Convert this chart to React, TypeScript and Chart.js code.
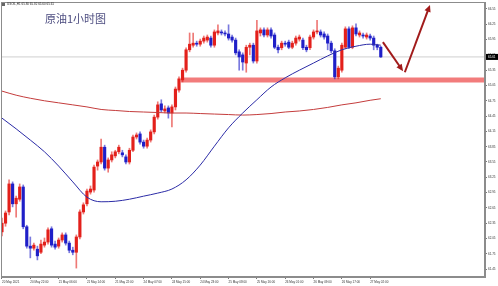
import React, { useEffect, useRef } from 'react';
import { Chart, registerables } from 'chart.js';
Chart.register(...registerables);

// Hourly candles, bar index 0 = 20 May 14:00
const opens = [
  62.18, 62.35, 62.57, 63.12, 62.73, 62.82, 63.06, 62.28, 61.90, 61.86,
  61.84, 61.78, 61.92, 61.98, 62.24, 61.94, 61.90, 62.02, 62.12, 61.96,
  61.82, 61.78, 62.08, 62.57, 62.73, 62.96, 63.00, 63.47, 63.55, 63.84,
  63.43, 63.59, 63.67, 63.75, 63.73, 63.65, 63.55, 63.78, 64.04, 64.10,
  63.94, 63.86, 63.98, 64.14, 64.43, 64.69, 64.55, 64.61, 64.51, 64.63,
  64.96, 65.16, 65.35, 65.75, 65.84, 65.88, 65.86, 65.92, 65.94, 65.98,
  65.84, 66.08, 66.10, 66.08, 66.06, 66.00, 65.94, 65.71, 65.65, 65.49,
  65.80, 65.84, 65.53, 66.08, 66.14, 66.04, 66.14, 66.04, 65.80, 65.79,
  65.88, 65.90, 65.80, 65.88, 65.96, 65.94, 65.80, 65.79, 66.00, 66.10,
  66.10, 66.06, 66.02, 65.88, 65.73, 65.22, 65.35, 65.80, 66.16, 65.80,
  66.18, 66.04, 66.04, 66.00, 66.02, 65.98, 65.84, 65.80,
];
const closes = [
  62.35, 62.55, 63.12, 62.73, 62.84, 63.06, 62.28, 61.90, 61.86, 61.92,
  61.71, 61.94, 61.98, 62.22, 61.92, 61.88, 62.02, 62.12, 61.96, 61.82,
  61.78, 62.08, 62.57, 62.71, 62.98, 63.02, 63.45, 63.55, 63.84, 63.43,
  63.59, 63.69, 63.75, 63.84, 63.69, 63.55, 63.78, 64.04, 64.08, 63.94,
  63.86, 63.98, 64.14, 64.43, 64.67, 64.57, 64.59, 64.51, 64.63, 64.98,
  65.18, 65.35, 65.75, 65.86, 65.88, 65.86, 65.92, 65.98, 66.00, 65.84,
  66.10, 66.12, 66.08, 66.06, 65.98, 65.94, 65.69, 65.61, 65.51, 65.80,
  65.84, 65.53, 66.12, 66.14, 66.04, 66.14, 66.02, 65.80, 65.75, 65.88,
  65.86, 65.80, 65.88, 65.98, 66.00, 65.79, 65.75, 66.00, 66.10, 66.12,
  66.04, 66.00, 65.88, 65.73, 65.22, 65.39, 65.84, 66.16, 65.80, 66.18,
  66.06, 66.08, 66.02, 66.04, 65.98, 65.84, 65.80, 65.61,
];
const highs = [
  62.45, 62.59, 63.20, 63.16, 62.88, 63.12, 63.10, 62.31, 62.08, 61.96,
  61.90, 62.02, 62.06, 62.26, 62.28, 62.00, 62.06, 62.16, 62.16, 62.00,
  61.88, 62.12, 62.61, 62.75, 63.02, 63.08, 63.49, 63.59, 64.00, 63.88,
  63.63, 63.75, 63.78, 63.88, 63.78, 63.69, 63.82, 64.08, 64.12, 64.14,
  63.98, 64.02, 64.18, 64.47, 64.73, 64.77, 64.65, 64.65, 64.67, 65.02,
  65.22, 65.39, 65.79, 66.08, 66.08, 65.92, 65.96, 66.02, 66.04, 66.02,
  66.14, 66.24, 66.14, 66.12, 66.24, 66.04, 65.98, 65.75, 65.69, 65.84,
  65.88, 65.88, 66.33, 66.18, 66.18, 66.18, 66.18, 66.08, 65.84, 65.92,
  65.92, 65.94, 65.92, 66.02, 66.04, 65.98, 65.84, 66.04, 66.14, 66.33,
  66.14, 66.10, 66.06, 65.92, 65.77, 65.43, 65.88, 66.20, 66.20, 66.22,
  66.26, 66.12, 66.08, 66.08, 66.06, 66.02, 65.86, 65.82,
];
const lows = [
  62.10, 62.29, 62.51, 62.67, 62.47, 62.78, 62.24, 61.86, 61.67, 61.82,
  61.63, 61.75, 61.88, 61.94, 61.88, 61.84, 61.86, 61.98, 61.92, 61.77,
  61.73, 61.47, 62.04, 62.53, 62.69, 62.92, 62.96, 63.39, 63.51, 63.39,
  63.35, 63.55, 63.63, 63.71, 63.65, 63.51, 63.51, 63.75, 64.00, 63.90,
  63.82, 63.82, 63.94, 64.10, 64.39, 64.53, 64.51, 64.41, 64.24, 64.57,
  64.92, 65.12, 65.31, 65.71, 65.80, 65.82, 65.82, 65.88, 65.90, 65.80,
  65.80, 66.04, 66.04, 66.02, 65.94, 65.90, 65.65, 65.35, 65.35, 65.31,
  65.65, 65.49, 65.49, 66.02, 66.00, 66.00, 65.98, 65.77, 65.69, 65.75,
  65.82, 65.77, 65.77, 65.84, 65.92, 65.75, 65.71, 65.75, 65.96, 66.06,
  66.00, 65.96, 65.75, 65.69, 65.18, 65.18, 65.31, 65.77, 65.77, 65.77,
  66.02, 66.00, 65.98, 65.96, 65.94, 65.75, 65.75, 65.60,
];

// Moving averages read at every 4th bar
const maIndex = [0, 4, 8, 12, 16, 20, 24, 28, 32, 36, 40, 44, 48, 52, 56, 60, 64, 68, 72, 76, 80, 84, 88, 92, 96, 100, 104, 107];
const maFast = [64.41, 64.20, 63.98, 63.75, 63.47, 63.16, 62.86, 62.77, 62.78, 62.82, 62.88, 62.94, 63.02, 63.20, 63.49, 63.86, 64.22, 64.51, 64.77, 65.02, 65.20, 65.35, 65.49, 65.63, 65.75, 65.82, 65.86, 65.84];
const maSlow = [64.94, 64.86, 64.80, 64.75, 64.71, 64.67, 64.63, 64.58, 64.56, 64.54, 64.53, 64.52, 64.51, 64.51, 64.50, 64.49, 64.48, 64.47, 64.48, 64.50, 64.53, 64.55, 64.58, 64.62, 64.67, 64.71, 64.76, 64.79];

const xTickIndex = [0, 8, 16, 24, 32, 40, 48, 56, 64, 72, 80, 88, 96, 104];
const xTickLabels = [
  '20 May 2021', '20 May 22:00', '21 May 06:00', '21 May 14:00', '21 May 22:00',
  '24 May 07:00', '24 May 15:00', '24 May 23:00', '25 May 08:00', '25 May 16:00',
  '26 May 01:00', '26 May 09:00', '26 May 17:00', '27 May 02:00',
];
const yTicks = [66.55, 66.25, 65.95, 65.65, 65.35, 65.05, 64.75, 64.45, 64.15, 63.85, 63.55, 63.25, 62.95, 62.65, 62.35, 62.05, 61.75, 61.45];

const supportLevel = 65.16;
const supportStart = 50.5;
const currentPrice = 65.61;
const arrowDown = [[107.6, 65.90], [113.3, 65.33]];
const arrowUp = [[113.8, 65.31], [120.9, 66.63]];

const X_MIN = -0.28;
const X_MAX = 136.44;
const Y_MIN = 61.295;
const Y_MAX = 66.687;

const BULL = '#e3201b';
const BEAR = '#1f1fc8';
const BULL_W = 'rgba(227,32,27,0.6)';
const BEAR_W = 'rgba(31,31,200,0.6)';

export default function App() {
  const ref = useRef<HTMLCanvasElement>(null);
  useEffect(() => {
    document.body.style.margin = '0';
    const canvas = ref.current!;
    const up = closes.map((c, i) => c >= opens[i]);
    const overlay = {
      id: 'overlay',
      afterDraw(chart: any) {
        const ctx = chart.ctx;
        const xs = chart.scales.x;
        const ys = chart.scales.y;
        const a = chart.chartArea;
        ctx.save();
        ctx.strokeStyle = '#8c8c8c';
        ctx.lineWidth = 1;
        ctx.strokeRect(a.left + 0.5, a.top + 0.5, a.right - a.left - 1, a.bottom - a.top - 1);
        const drawArrow = (pts: number[][]) => {
          const p0 = [xs.getPixelForValue(pts[0][0]), ys.getPixelForValue(pts[0][1])];
          const p1 = [xs.getPixelForValue(pts[1][0]), ys.getPixelForValue(pts[1][1])];
          const ang = Math.atan2(p1[1] - p0[1], p1[0] - p0[0]);
          const L = 7, W = 3.2;
          ctx.strokeStyle = '#a11b1b';
          ctx.fillStyle = '#a11b1b';
          ctx.lineWidth = 2;
          ctx.beginPath();
          ctx.moveTo(p0[0], p0[1]);
          ctx.lineTo(p1[0] - Math.cos(ang) * L * 0.6, p1[1] - Math.sin(ang) * L * 0.6);
          ctx.stroke();
          ctx.beginPath();
          ctx.moveTo(p1[0], p1[1]);
          ctx.lineTo(p1[0] - Math.cos(ang) * L + Math.sin(ang) * W, p1[1] - Math.sin(ang) * L - Math.cos(ang) * W);
          ctx.lineTo(p1[0] - Math.cos(ang) * L - Math.sin(ang) * W, p1[1] - Math.sin(ang) * L + Math.cos(ang) * W);
          ctx.closePath();
          ctx.fill();
        };
        drawArrow(arrowDown);
        drawArrow(arrowUp);
        const py = ys.getPixelForValue(currentPrice);
        ctx.fillStyle = '#000';
        ctx.fillRect(a.right + 1, py - 3, 12, 6);
        ctx.fillStyle = '#fff';
        ctx.font = '3px "Liberation Sans"';
        ctx.textBaseline = 'middle';
        ctx.textAlign = 'left';
        ctx.fillText(currentPrice.toFixed(2), a.right + 3, py);
        ctx.restore();
      },
    };
    const chart = new Chart(canvas, {
      type: 'bar',
      data: {
        datasets: [
          {
            type: 'line',
            data: [{ x: supportStart, y: supportLevel }, { x: X_MAX, y: supportLevel }],
            borderColor: '#f27c7c',
            borderWidth: 5,
            borderCapStyle: 'butt',
            pointRadius: 0,
            order: 11,
          } as any,
          {
            type: 'line',
            data: [{ x: X_MIN, y: currentPrice }, { x: X_MAX, y: currentPrice }],
            borderColor: '#cfcfcf',
            borderWidth: 1,
            pointRadius: 0,
            order: 12,
          } as any,
          {
            type: 'bar',
            data: opens.map((_, i) => ({ x: i, y: [lows[i], highs[i]] })),
            backgroundColor: up.map((u) => (u ? BULL_W : BEAR_W)),
            barThickness: 1,
            grouped: false,
            borderWidth: 0,
            order: 6,
          } as any,
          {
            type: 'bar',
            data: opens.map((o, i) => ({ x: i, y: [o, closes[i]] })),
            backgroundColor: up.map((u) => (u ? BULL : BEAR)),
            barThickness: 2.5,
            minBarLength: 1,
            grouped: false,
            borderWidth: 0,
            order: 5,
          } as any,
          {
            type: 'line',
            data: maIndex.map((x, k) => ({ x, y: maSlow[k] })),
            borderColor: '#c43c3c',
            borderWidth: 1,
            pointRadius: 0,
            cubicInterpolationMode: 'monotone',
            order: 2,
          } as any,
          {
            type: 'line',
            data: maIndex.map((x, k) => ({ x, y: maFast[k] })),
            borderColor: '#2b2ba6',
            borderWidth: 1,
            pointRadius: 0,
            cubicInterpolationMode: 'monotone',
            order: 1,
          } as any,
        ],
      },
      options: {
        responsive: false,
        animation: false,
        events: [],
        layout: { padding: { left: 1, top: 2, right: 0, bottom: 0 } },
        plugins: { legend: { display: false }, tooltip: { enabled: false } },
        scales: {
          x: {
            type: 'linear',
            min: X_MIN,
            max: X_MAX,
            offset: false,
            afterBuildTicks: (s: any) => {
              s.ticks = xTickIndex.map((v) => ({ value: v }));
            },
            afterFit: (s: any) => {
              s.height = 9;
              s.paddingLeft = 0;
              s.paddingRight = 0;
            },
            ticks: {
              autoSkip: false,
              maxRotation: 0,
              align: 'start',
              padding: 1,
              color: '#333',
              font: { size: 3, family: 'Liberation Sans' },
              callback: (_v: any, i: number) => xTickLabels[i],
            },
            grid: { drawOnChartArea: false, drawTicks: true, tickLength: 2, color: '#777', offset: false },
            border: { display: true, color: '#8c8c8c' },
          },
          y: {
            type: 'linear',
            position: 'right',
            min: Y_MIN,
            max: Y_MAX,
            afterBuildTicks: (s: any) => {
              s.ticks = yTicks.map((v) => ({ value: v }));
            },
            afterFit: (s: any) => {
              s.width = 13;
              s.paddingTop = 0;
              s.paddingBottom = 0;
            },
            ticks: {
              padding: 1,
              color: '#333',
              font: { size: 3, family: 'Liberation Sans' },
              callback: (v: any) => Number(v).toFixed(2),
            },
            grid: { drawOnChartArea: false, drawTicks: true, tickLength: 2, color: '#777' },
            border: { display: true, color: '#8c8c8c' },
          },
        },
      } as any,
      plugins: [overlay],
    });
    return () => chart.destroy();
  }, []);
  return (
    <div style={{ position: 'relative', width: 498, height: 286 }}>
      <canvas ref={ref} width={498} height={286} style={{ display: 'block' }} />
      <div style={{ position: 'absolute', left: 2, top: 3, width: 3, height: 3, background: '#666' }} />
      <div
        style={{
          position: 'absolute', left: 7, top: 2, fontSize: '3px', lineHeight: '4px',
          fontFamily: 'Liberation Sans', color: '#222', whiteSpace: 'nowrap',
        }}
      >
        USOIL,H1 65.80 65.82 65.60 65.61
      </div>
      <div
        style={{
          position: 'absolute', left: 45, top: 12, fontSize: '11px', lineHeight: '12px',
          fontFamily: '"Noto Sans CJK SC"', color: '#4d4d80', whiteSpace: 'nowrap',
        }}
      >
        原油1小时图
      </div>
    </div>
  );
}
